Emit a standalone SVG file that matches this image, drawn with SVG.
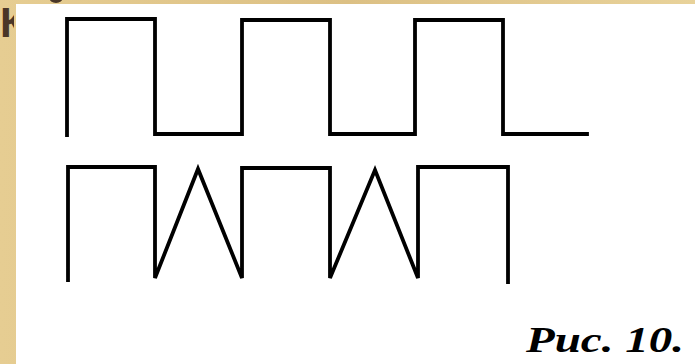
<svg xmlns="http://www.w3.org/2000/svg" width="695" height="364" viewBox="0 0 695 364">
<defs>
<linearGradient id="tan" x1="0" y1="0" x2="1" y2="0">
<stop offset="0" stop-color="#e6cd92"/>
<stop offset="0.5" stop-color="#dcc084"/>
<stop offset="1" stop-color="#e8d29a"/>
</linearGradient>
<clipPath id="headclip"><rect x="0" y="0" width="14" height="364"/><rect x="14" y="0" width="681" height="4"/></clipPath>
<style>
.wave{fill:none;stroke:#000;stroke-width:3.8;stroke-linejoin:miter;stroke-linecap:square}
.cap{font-family:"Liberation Serif","DejaVu Serif",serif;font-weight:bold;font-style:italic;font-size:36px;fill:#000}
.head{font-family:"Liberation Sans","DejaVu Sans",sans-serif;font-weight:bold;font-size:42px;fill:#4a3627}
</style>
</defs>
<rect x="0" y="0" width="695" height="364" fill="url(#tan)"/>
<g id="heading-fragment" clip-path="url(#headclip)">
<text class="head" x="0" y="37">К</text>
<ellipse cx="56" cy="-3" rx="7" ry="6" fill="#4a3627"/>
</g>
<rect x="16" y="4" width="679" height="360" fill="#ffffff"/>
<g id="connectors">
<path id="square-wave" class="wave" d="M67,135 V19 H155 V134 H242 V20 H330 V134 H415 V20 H503 V134 H587"/>
<path id="mixed-wave" class="wave" d="M68,280 V167 H155 V278 L198,169 L242,278 V168 H330 V278 L375,170 L418,278 V167 H508 V282"/>
</g>
<g id="caption">
<text class="cap" x="526" y="352" textLength="158" lengthAdjust="spacingAndGlyphs">Рис.  10.</text>
</g>
</svg>
